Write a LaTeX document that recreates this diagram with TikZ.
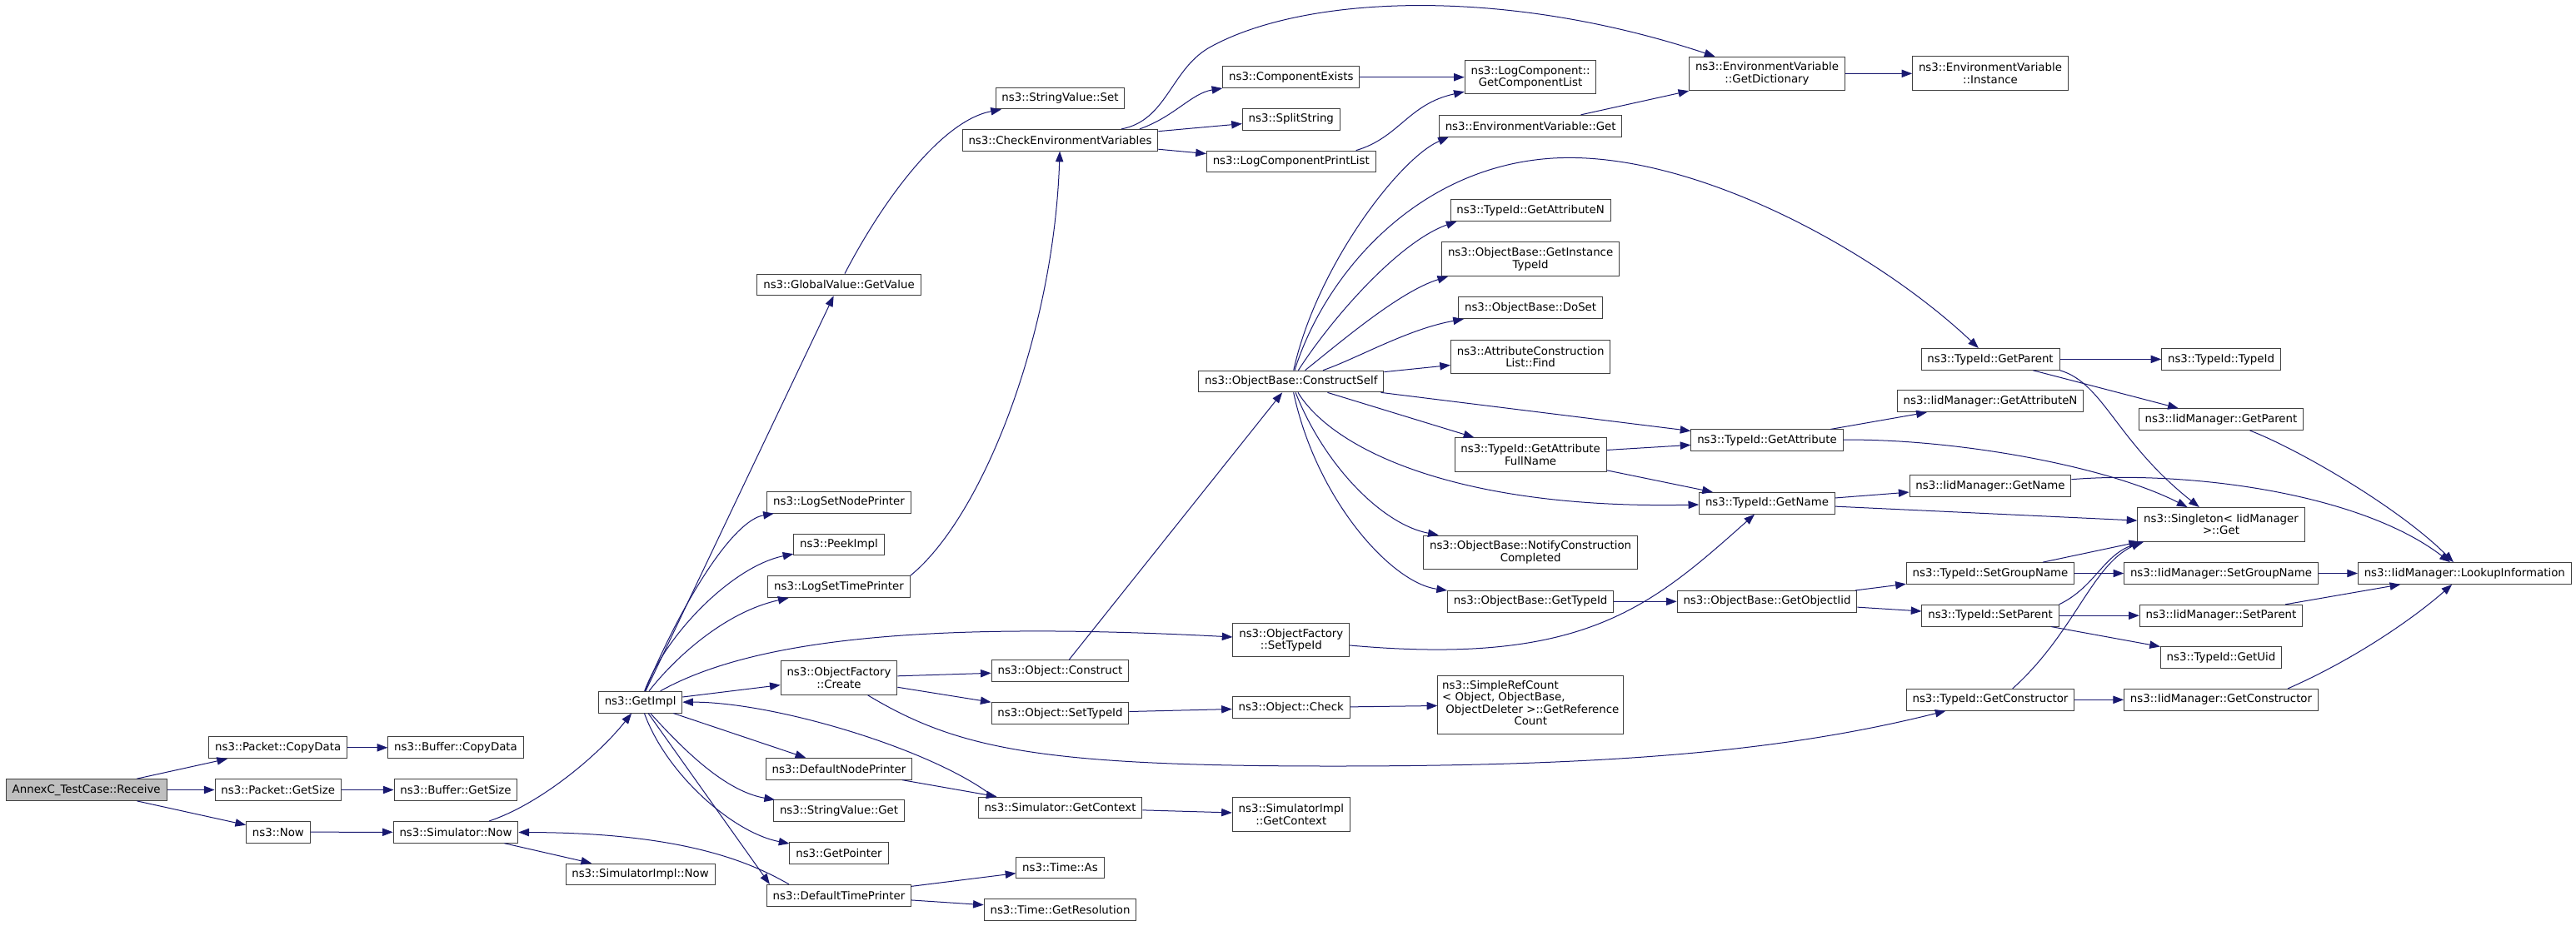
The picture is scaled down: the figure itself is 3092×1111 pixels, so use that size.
\documentclass[tikz,border=0pt]{standalone}
\usepackage{fontspec}
\setmainfont{DejaVu Sans}
\usepackage{tikz}
\usepackage{xcolor}
\usetikzlibrary{arrows.meta, positioning, calc}
\definecolor{callblue}{HTML}{191970}
\definecolor{boxgrey}{HTML}{404040}
\definecolor{rootgrey}{HTML}{BFBFBF}

\begin{document}
\begin{tikzpicture}[x=0.75pt, y=-0.75pt,
  fn/.style={draw=boxgrey, line width=0.75pt, fill=white, rectangle, inner xsep=5.5pt, inner ysep=1pt,
    minimum height=19.3pt, font=\fontsize{10}{10.8}\selectfont},
  fntwo/.style={fn, align=center, minimum height=30.4pt},
  root/.style={fn, fill=rootgrey},
  call/.style={draw=callblue, line width=0.75pt, -{Triangle[length=9.5pt, width=7pt]}}]
\useasboundingbox (0,0) rectangle (3092,1111);

% Caller and the first calls
\node[root] (annex) at (103.7,948.5) {AnnexC\_TestCase::Receive};
\node[fn] (pcopy) at (333.7,897.8) {ns3::Packet::CopyData};
\node[fn] (psize) at (333.7,948.5) {ns3::Packet::GetSize};
\node[fn] (now) at (333.9,999.2) {ns3::Now};
\node[fn] (bcopy) at (547,897.8) {ns3::Buffer::CopyData};
\node[fn] (bsize) at (547,948.5) {ns3::Buffer::GetSize};
\node[fn] (simnow) at (547,999.3) {ns3::Simulator::Now};
\node[fn] (getimpl) at (768.6,843.2) {ns3::GetImpl};
\node[fn] (siminow) at (768.5,1050) {ns3::SimulatorImpl::Now};

% Functions called from GetImpl
\node[fn] (gvget) at (1007,342) {ns3::GlobalValue::GetValue};
\node[fn] (lsnp) at (1007,603.3) {ns3::LogSetNodePrinter};
\node[fn] (peek) at (1007,654) {ns3::PeekImpl};
\node[fn] (lstp) at (1007,704.7) {ns3::LogSetTimePrinter};
\node[fntwo] (ofcreate) at (1007,814) {ns3::ObjectFactory\\::Create};
\node[fn] (dnp) at (1007,923.3) {ns3::DefaultNodePrinter};
\node[fn] (svget) at (1007,973.8) {ns3::StringValue::Get};
\node[fn] (getptr) at (1007,1024.5) {ns3::GetPointer};
\node[fn] (dtp) at (1007,1075.2) {ns3::DefaultTimePrinter};

% Next column
\node[fn] (svset) at (1272.5,118) {ns3::StringValue::Set};
\node[fn] (checkenv) at (1272.5,168.3) {ns3::CheckEnvironmentVariables};
\node[fn] (oconstruct) at (1272.5,805.7) {ns3::Object::Construct};
\node[fn] (osettid) at (1272.5,856.5) {ns3::Object::SetTypeId};
\node[fn] (simctx) at (1272.5,970) {ns3::Simulator::GetContext};
\node[fn] (tas) at (1272.5,1042) {ns3::Time::As};
\node[fn] (tres) at (1272.5,1092.7) {ns3::Time::GetResolution};

\node[fn] (compex) at (1549.8,92.7) {ns3::ComponentExists};
\node[fn] (split) at (1549.8,143.3) {ns3::SplitString};
\node[fn] (lcpl) at (1549.8,194) {ns3::LogComponentPrintList};
\node[fn] (cself) at (1549.8,458) {ns3::ObjectBase::ConstructSelf};
\node[fntwo] (ofsettid) at (1549.8,768.7) {ns3::ObjectFactory\\::SetTypeId};
\node[fn] (ocheck) at (1549.8,849.8) {ns3::Object::Check};
\node[fntwo] (simictx) at (1549.8,978) {ns3::SimulatorImpl\\::GetContext};

% Functions called from ConstructSelf
\node[fntwo] (gcl) at (1837.1,92.7) {ns3::LogComponent::\\GetComponentList};
\node[fn] (evget) at (1837.1,151.2) {ns3::EnvironmentVariable::Get};
\node[fn] (tgan) at (1837.1,252.5) {ns3::TypeId::GetAttributeN};
\node[fntwo] (ginst) at (1837.1,311.2) {ns3::ObjectBase::GetInstance\\TypeId};
\node[fn] (doset) at (1837.1,369.8) {ns3::ObjectBase::DoSet};
\node[fntwo] (acfind) at (1837.1,428.7) {ns3::AttributeConstruction\\List::Find};
\node[fntwo] (gafull) at (1837.1,546) {ns3::TypeId::GetAttribute\\FullName};
\node[fntwo] (notify) at (1837.1,663.3) {ns3::ObjectBase::NotifyConstruction\\Completed};
\node[fn] (obgtid) at (1837.1,722.3) {ns3::ObjectBase::GetTypeId};
\node[fn, minimum height=52.5pt, inner xsep=4pt] (srefc) at (1837.3,846) {\begin{tabular}{@{}l@{}}ns3::SimpleRefCount\\< Object, ObjectBase,\\ \ ObjectDeleter >::GetReference\\\multicolumn{1}{@{}c@{}}{Count}\end{tabular}};

\node[fntwo] (evdict) at (2121,88.5) {ns3::EnvironmentVariable\\::GetDictionary};
\node[fn] (tgattr) at (2121,528.8) {ns3::TypeId::GetAttribute};
\node[fn] (tgname) at (2121,604.3) {ns3::TypeId::GetName};
\node[fn] (getoiid) at (2121,722.3) {ns3::ObjectBase::GetObjectIid};

% TypeId and IidManager
\node[fntwo] (evinst) at (2389,88.2) {ns3::EnvironmentVariable\\::Instance};
\node[fn] (tgparent) at (2389,431.4) {ns3::TypeId::GetParent};
\node[fn] (igan) at (2389,481.8) {ns3::IidManager::GetAttributeN};
\node[fn] (igname) at (2389,583.5) {ns3::IidManager::GetName};
\node[fn] (tsgroup) at (2389,688.5) {ns3::TypeId::SetGroupName};
\node[fn] (tsparent) at (2389,739.2) {ns3::TypeId::SetParent};
\node[fn] (tgctor) at (2389,840.3) {ns3::TypeId::GetConstructor};

\node[fn] (ttid) at (2666,431.4) {ns3::TypeId::TypeId};
\node[fn] (igparent) at (2666,503.6) {ns3::IidManager::GetParent};
\node[fntwo] (sget) at (2666,629.8) {ns3::Singleton< IidManager\\>::Get};
\node[fn] (isgroup) at (2666,688.5) {ns3::IidManager::SetGroupName};
\node[fn] (isparent) at (2666,739.2) {ns3::IidManager::SetParent};
\node[fn] (tguid) at (2666,789.8) {ns3::TypeId::GetUid};
\node[fn] (igctor) at (2666,840.3) {ns3::IidManager::GetConstructor};

\node[fn] (lookup) at (2958.3,688.5) {ns3::IidManager::LookupInformation};

% Straight calls
\foreach \a/\b in {annex/pcopy, annex/psize, annex/now, pcopy/bcopy, psize/bsize, now/simnow,
    simnow/siminow, getimpl/gvget, getimpl/ofcreate, getimpl/dnp, dnp/simctx, dtp/tas, dtp/tres,
    simctx/simictx, ofcreate/oconstruct, ofcreate/osettid, oconstruct/cself, osettid/ocheck,
    ocheck/srefc, checkenv/split, checkenv/lcpl, compex/gcl, evget/evdict, evdict/evinst,
    cself/acfind, cself/tgattr, cself/gafull, gafull/tgattr, gafull/tgname, obgtid/getoiid,
    tgattr/igan, tgname/igname, tgname/sget, getoiid/tsgroup, getoiid/tsparent, tgparent/ttid,
    tgparent/igparent, tsgroup/isgroup, tsgroup/sget, tsparent/isparent, tsparent/tguid,
    tgctor/igctor, isgroup/lookup, isparent/lookup} {
    \draw[call] (\a) -- (\b);
}

% Curved calls on the left
\draw[call] (simnow) .. controls (650,965) and (720,905) .. (getimpl);
\draw[call] ([xshift=-45pt]dtp.north) .. controls (900,1035) and (820,1000) .. (simnow);
\draw[call] (getimpl) .. controls (820,720) and (880,625) .. (lsnp);
\draw[call] (getimpl) .. controls (800,760) and (880,680) .. (peek);
\draw[call] (getimpl) .. controls (810,790) and (870,735) .. (lstp);
\draw[call] (getimpl) .. controls (900,770) and (1100,745) .. (ofsettid);
\draw[call] (getimpl) .. controls (820,900) and (870,950) .. (svget);
\draw[call] (getimpl) .. controls (800,930) and (880,1000) .. (getptr);
\draw[call] (getimpl) -- ([xshift=3pt]dtp.north west);
\draw[call] ([xshift=-60pt]simctx.north) .. controls (1120,900) and (930,843) .. (getimpl);
\draw[call] (ofcreate) .. controls (1150,900) and (1250,920) .. (1600,920)
    .. controls (1950,920) and (2150,900) .. (tgctor);
\draw[call] (ofsettid) .. controls (1900,800) and (1980,730) .. (tgname);
\draw[call] (lstp.north east) .. controls (1180,620) and (1265,400) .. (checkenv);
\draw[call] (gvget) .. controls (1060,240) and (1130,145) .. (svset);

% CheckEnvironmentVariables
\draw[call] ([xshift=55pt]checkenv.north) .. controls (1400,145) and (1405,85) .. (1450,58)
    .. controls (1560,-5) and (1800,-18) .. (evdict);
\draw[call] ([xshift=71.5pt]checkenv.north) .. controls (1410,140) and (1430,112) .. (compex);
\draw[call] ([xshift=-18pt]lcpl.north east) .. controls (1680,165) and (1690,125) .. (gcl);

% ConstructSelf
\draw[call] (cself) .. controls (1580,320) and (1680,190) .. ([xshift=9pt]evget.south west);
\draw[call] (cself) .. controls (1590,330) and (1700,200) .. (1864,190)
    .. controls (2030,180) and (2250,300) .. (tgparent);
\draw[call] (cself) .. controls (1600,380) and (1680,290) .. ([xshift=6pt]tgan.south west);
\draw[call] (cself) .. controls (1610,410) and (1680,350) .. ([xshift=6pt]ginst.south west);
\draw[call] (cself) .. controls (1630,430) and (1690,395) .. ([xshift=5pt]doset.south west);
\draw[call] (cself) .. controls (1600,540) and (1750,612) .. (tgname);
\draw[call] (cself) .. controls (1590,560) and (1660,630) .. (notify);
\draw[call] (cself) .. controls (1580,600) and (1670,700) .. (obgtid);

% Singleton and LookupInformation
\draw[call] (tgattr) .. controls (2350,527) and (2530,560) .. (sget);
\draw[call] (tgparent.south east) .. controls (2525,460) and (2540,530) .. (sget);
\draw[call] (tsparent.north east) .. controls (2515,705) and (2525,665) .. ([xshift=6pt]sget.south west);
\draw[call] ([xshift=20pt]tgctor.north) .. controls (2490,760) and (2510,680) .. ([xshift=4pt]sget.south west);
\draw[call] (igparent) .. controls (2760,540) and (2880,610) .. (lookup);
\draw[call] (igname) .. controls (2620,565) and (2830,590) .. (lookup);
\draw[call] ([xshift=60pt]igctor.north) .. controls (2830,790) and (2900,740) .. (lookup);
\end{tikzpicture}
\end{document}
